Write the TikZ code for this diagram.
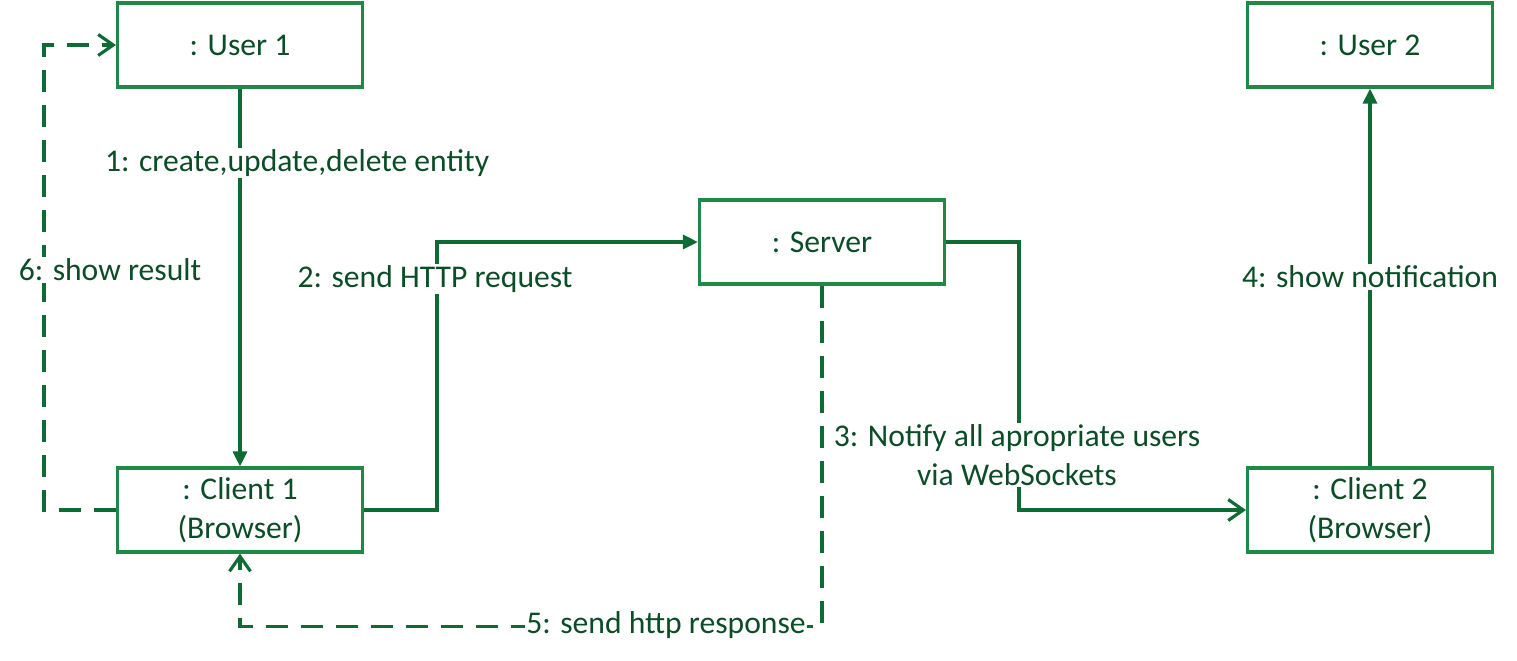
\documentclass[tikz,border=0pt]{standalone}
\usepackage{fontspec}
\setmainfont{Carlito}
\usepackage{xcolor}
\usetikzlibrary{arrows.meta}
\definecolor{boxgreen}{HTML}{1F8A47}
\definecolor{linegreen}{HTML}{0E6B33}
\definecolor{txtgreen}{HTML}{0B4D26}

\begin{document}
\begin{tikzpicture}[x=0.02cm, y=-0.02cm, color=linegreen, line width=1.8pt,%
        every node/.style={font=\fontsize{18}{22}\selectfont, text=txtgreen},%
        obj/.style={draw=boxgreen, fill=white, minimum width=4.9cm, minimum height=1.68cm, align=center},%
        lbl/.style={fill=white, inner sep=1pt, align=center},%
        call/.style={-{Triangle[length=0.3cm, width=0.28cm]}},%
        reply/.style={-{Straight Barb[length=0.3cm, width=0.42cm]}},%
        back/.style={reply, dash pattern=on 0.44cm off 0.26cm}]
        \useasboundingbox (0,0) rectangle (1517,660);
        \node[obj] (u1) at (240,45) {: User 1};
        \node[obj] (u2) at (1370,45) {: User 2};
        \node[obj] (srv) at (822,242) {: Server};
        \node[obj] (c1) at (240,510) {: Client 1\\(Browser)};
        \node[obj] (c2) at (1370,510) {: Client 2\\(Browser)};
        \draw[call] (u1) -- (c1);
        \draw[call] (c1.east) -- ++(73,0) |- (srv.west);
        \draw[reply] (srv.east) -- ++(73,0) |- (c2.west);
        \draw[call] (c2) -- (u2);
        \draw[back] (srv.south) -- ++(0,341) -| (c1.south);
        \draw[back] (c1.west) -- ++(-72,0) |- (u1.west);
        \node[lbl] (m1) at (297,163) {1: create,update,delete entity};
        \node[lbl] (m2) at (435,279) {2: send HTTP request};
        \node[lbl] (m3) at (1017,455) {3: Notify all apropriate users\\via WebSockets};
        \node[lbl] (m4) at (1370,277) {4: show notification};
        \node[lbl] (m5) at (666,625) {5: send http response};
        \node[lbl] (m6) at (110,270) {6: show result};
\end{tikzpicture}
\end{document}
